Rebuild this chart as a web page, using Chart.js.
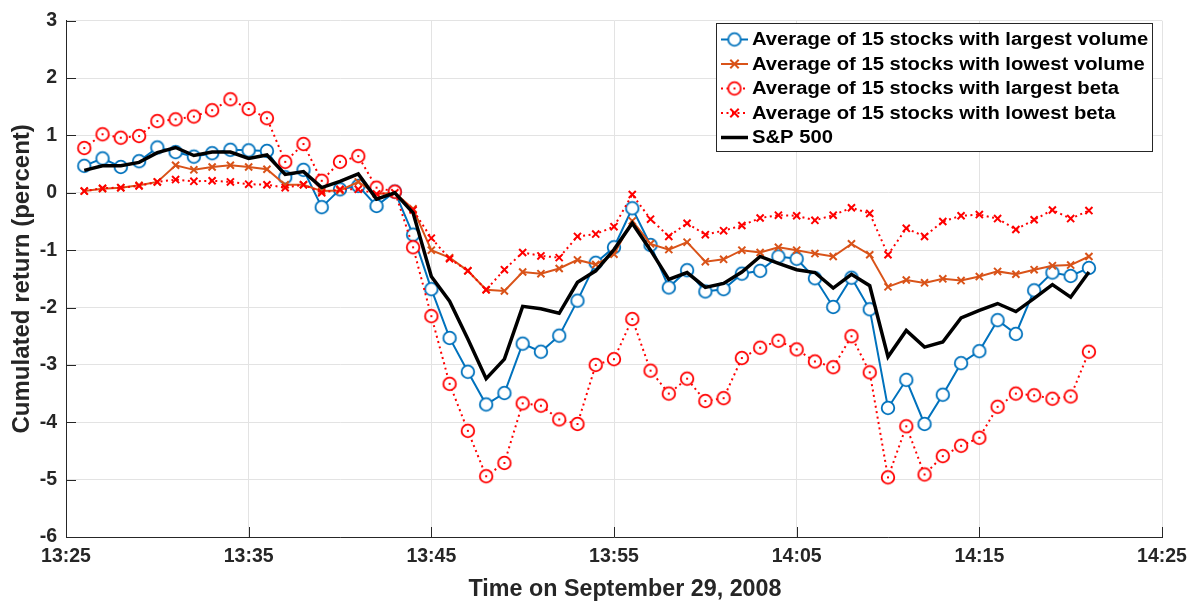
<!DOCTYPE html>
<html>
<head>
<meta charset="utf-8">
<script src="https://cdn.jsdelivr.net/npm/chart.js@4.4.1/dist/chart.umd.min.js"></script>
<style>
  html, body { margin: 0; padding: 0; background: #ffffff; }
  #wrap { width: 1199px; height: 604px; }
</style>
</head>
<body>
<div id="wrap"><canvas id="c" width="1199" height="604"></canvas></div>
<script>
// Minute stamps, 29 September 2008
const times = [
  "13:26","13:27","13:28","13:29","13:30","13:31","13:32","13:33","13:34","13:35",
  "13:36","13:37","13:38","13:39","13:40","13:41","13:42","13:43","13:44","13:45",
  "13:46","13:47","13:48","13:49","13:50","13:51","13:52","13:53","13:54","13:55",
  "13:56","13:57","13:58","13:59","14:00","14:01","14:02","14:03","14:04","14:05",
  "14:06","14:07","14:08","14:09","14:10","14:11","14:12","14:13","14:14","14:15",
  "14:16","14:17","14:18","14:19","14:20","14:21"
];

// Cumulated returns in percent
const largestVolume = [
  0.47, 0.60, 0.45, 0.55, 0.79, 0.71, 0.63, 0.69, 0.75, 0.74,
  0.73, 0.27, 0.40, -0.25, 0.06, 0.12, -0.23, 0.02, -0.73, -1.68,
  -2.53, -3.12, -3.69, -3.49, -2.63, -2.77, -2.49, -1.88, -1.22, -0.95,
  -0.27, -0.91, -1.65, -1.35, -1.72, -1.68, -1.41, -1.36, -1.11, -1.15,
  -1.49, -1.99, -1.48, -2.03, -3.75, -3.26, -4.03, -3.52, -2.97, -2.76,
  -2.22, -2.46, -1.70, -1.39, -1.45, -1.31
];
const lowestVolume = [
  0.03, 0.07, 0.09, 0.13, 0.19, 0.48, 0.40, 0.45, 0.48, 0.45,
  0.41, 0.14, 0.14, 0.03, 0.04, 0.19, -0.02, 0.00, -0.28, -1.00,
  -1.13, -1.36, -1.69, -1.71, -1.38, -1.41, -1.32, -1.17, -1.25, -1.07,
  -0.49, -0.89, -0.99, -0.86, -1.20, -1.16, -1.00, -1.04, -0.95, -1.00,
  -1.06, -1.11, -0.89, -1.08, -1.64, -1.52, -1.57, -1.50, -1.53, -1.46,
  -1.37, -1.42, -1.34, -1.27, -1.26, -1.11
];
const largestBeta = [
  0.78, 1.02, 0.96, 0.99, 1.25, 1.28, 1.33, 1.44, 1.63, 1.46,
  1.30, 0.54, 0.85, 0.21, 0.54, 0.64, 0.09, 0.02, -0.95, -2.15,
  -3.33, -4.15, -4.94, -4.71, -3.67, -3.71, -3.95, -4.03, -3.00, -2.90,
  -2.20, -3.10, -3.50, -3.24, -3.63, -3.58, -2.88, -2.70, -2.58, -2.73,
  -2.94, -3.04, -2.50, -3.13, -4.96, -4.07, -4.91, -4.59, -4.41, -4.27,
  -3.73, -3.50, -3.53, -3.59, -3.55, -2.77
];
const lowestBeta = [
  0.03, 0.08, 0.09, 0.12, 0.19, 0.23, 0.20, 0.21, 0.19, 0.15,
  0.14, 0.09, 0.14, 0.00, 0.06, 0.06, -0.02, 0.00, -0.30, -0.79,
  -1.15, -1.36, -1.69, -1.34, -1.04, -1.10, -1.13, -0.76, -0.72, -0.59,
  -0.03, -0.46, -0.76, -0.53, -0.73, -0.66, -0.57, -0.44, -0.39, -0.40,
  -0.48, -0.39, -0.26, -0.36, -1.08, -0.62, -0.76, -0.50, -0.40, -0.38,
  -0.45, -0.64, -0.47, -0.30, -0.45, -0.31
];
const sp500 = [
  0.39, 0.47, 0.47, 0.53, 0.70, 0.79, 0.65, 0.71, 0.71, 0.60,
  0.66, 0.32, 0.37, 0.09, 0.20, 0.33, -0.11, 0.00, -0.35, -1.46,
  -1.89, -2.55, -3.24, -2.90, -1.98, -2.02, -2.10, -1.56, -1.36, -0.99,
  -0.53, -1.00, -1.51, -1.39, -1.65, -1.58, -1.38, -1.11, -1.23, -1.34,
  -1.39, -1.66, -1.42, -1.62, -2.86, -2.40, -2.69, -2.60, -2.18, -2.05,
  -1.93, -2.07, -1.84, -1.60, -1.82, -1.38
];

const seriesNames = [
  "Average of 15 stocks with largest volume",
  "Average of 15 stocks with lowest volume",
  "Average of 15 stocks with largest beta",
  "Average of 15 stocks with lowest beta",
  "S&P 500"
];

const xTickLabels = ["13:25", "13:35", "13:45", "13:55", "14:05", "14:15", "14:25"];
const yTickValues = [3, 2, 1, 0, -1, -2, -3, -4, -5, -6];

const xTitle = "Time on September 29, 2008";
const yTitle = "Cumulated return (percent)";

// ---- helpers ----
function toMinutes(t) {
  const [h, m] = t.split(":").map(Number);
  return h * 60 + m;
}
function fmtMinutes(v) {
  const h = Math.floor(v / 60), m = Math.round(v - h * 60);
  return h + ":" + String(m).padStart(2, "0");
}
function toPoints(values) {
  return times.map((t, i) => ({ x: toMinutes(t), y: values[i] }));
}

const BLUE = "#0072BD", ORANGE = "#D95319", RED = "#FF0000", AXIS = "#262626";
const FONT = '"Liberation Sans", Arial, Helvetica, sans-serif';

// hollow circle marker, optionally with a dot in the middle
function circleMarker(color, withDot) {
  const cv = document.createElement("canvas");
  cv.width = 18; cv.height = 18;
  const g = cv.getContext("2d");
  g.beginPath();
  g.arc(9, 9, 6.3, 0, Math.PI * 2);
  g.fillStyle = "#ffffff";
  g.fill();
  g.lineWidth = 1.8;
  g.strokeStyle = color;
  g.stroke();
  if (withDot) {
    g.fillStyle = color;
    g.fillRect(8, 8, 2, 2);
  }
  return cv;
}
const blueCircle = circleMarker(BLUE, false);
const redCircle = circleMarker(RED, true);

// inward tick marks along both axes
const inwardTicks = {
  id: "inwardTicks",
  beforeDatasetsDraw(chart) {
    const { ctx, chartArea: a, scales: { x, y } } = chart;
    ctx.save();
    ctx.strokeStyle = AXIS;
    ctx.lineWidth = 1;
    const len = 10;
    x.ticks.forEach(t => {
      const px = Math.round(x.getPixelForValue(t.value)) + 0.5;
      ctx.beginPath();
      ctx.moveTo(px, a.bottom);
      ctx.lineTo(px, a.bottom - len);
      ctx.stroke();
    });
    y.ticks.forEach(t => {
      const py = Math.round(y.getPixelForValue(t.value)) + 0.5;
      ctx.beginPath();
      ctx.moveTo(a.left, py);
      ctx.lineTo(a.left + len, py);
      ctx.stroke();
    });
    ctx.restore();
  }
};

// horizontal axis title
const xAxisTitle = {
  id: "xAxisTitle",
  afterDraw(chart) {
    const { ctx, chartArea: a } = chart;
    ctx.save();
    ctx.font = "bold 23.3px " + FONT;
    ctx.fillStyle = AXIS;
    ctx.textAlign = "center";
    ctx.textBaseline = "alphabetic";
    ctx.fillText(xTitle, (a.left + a.right) / 2 + 11, 596);
    ctx.restore();
  }
};

// boxed legend in the upper right of the plot
const boxLegend = {
  id: "boxLegend",
  afterDraw(chart) {
    const { ctx } = chart;
    const left = 716, top = 23, right = 1153, bottom = 152;
    ctx.save();
    ctx.fillStyle = "#ffffff";
    ctx.fillRect(left, top, right - left, bottom - top);
    ctx.strokeStyle = AXIS;
    ctx.lineWidth = 1;
    ctx.strokeRect(left + 0.5, top + 0.5, right - left - 1, bottom - top - 1);

    const rowY = [39.5, 64, 88.5, 113, 137.5];
    const x0 = 721, x1 = 748, xm = (x0 + x1) / 2, xt = 752;
    const stretch = 1.124;
    ctx.font = "bold 18px " + FONT;
    ctx.textBaseline = "middle";
    ctx.textAlign = "left";
    chart.data.datasets.forEach((ds, i) => {
      const yy = rowY[i];
      ctx.save();
      ctx.strokeStyle = ds.borderColor;
      ctx.lineWidth = ds.borderWidth;
      ctx.setLineDash(ds.borderDash || []);
      ctx.beginPath();
      ctx.moveTo(x0, yy);
      ctx.lineTo(x1, yy);
      ctx.stroke();
      ctx.restore();
      const ps = ds.pointStyle;
      if (ps instanceof HTMLCanvasElement) {
        ctx.drawImage(ps, xm - ps.width / 2, yy - ps.height / 2);
      } else if (ps === "crossRot") {
        const r = 4.2;
        ctx.save();
        ctx.strokeStyle = ds.pointBorderColor;
        ctx.lineWidth = ds.pointBorderWidth;
        ctx.beginPath();
        ctx.moveTo(xm - r, yy - r); ctx.lineTo(xm + r, yy + r);
        ctx.moveTo(xm - r, yy + r); ctx.lineTo(xm + r, yy - r);
        ctx.stroke();
        ctx.restore();
      }
      ctx.save();
      ctx.translate(xt, yy + 1);
      ctx.scale(stretch, 1);
      ctx.fillStyle = "#000000";
      ctx.fillText(ds.label, 0, 0);
      ctx.restore();
    });
    ctx.restore();
  }
};

const datasets = [
  {
    label: seriesNames[0], data: toPoints(largestVolume),
    borderColor: BLUE, borderWidth: 2, pointStyle: blueCircle,
    pointBorderColor: BLUE, order: 4
  },
  {
    label: seriesNames[1], data: toPoints(lowestVolume),
    borderColor: ORANGE, borderWidth: 2, pointStyle: "crossRot",
    pointRadius: 5, pointBorderColor: ORANGE, pointBorderWidth: 2, order: 3
  },
  {
    label: seriesNames[2], data: toPoints(largestBeta),
    borderColor: RED, borderWidth: 2, borderDash: [2, 3.5], pointStyle: redCircle,
    pointBorderColor: RED, order: 2
  },
  {
    label: seriesNames[3], data: toPoints(lowestBeta),
    borderColor: RED, borderWidth: 2, borderDash: [2, 3.5], pointStyle: "crossRot",
    pointRadius: 5, pointBorderColor: RED, pointBorderWidth: 2, order: 1
  },
  {
    label: seriesNames[4], data: toPoints(sp500),
    borderColor: "#000000", borderWidth: 3.5, pointRadius: 0, pointStyle: false, order: 0
  }
];
datasets.forEach(d => {
  d.fill = false;
  d.tension = 0;
  d.backgroundColor = "#ffffff";
  d.pointBackgroundColor = "#ffffff";
  d.pointHoverRadius = d.pointRadius;
  d.borderJoinStyle = "miter";
});

new Chart(document.getElementById("c"), {
  type: "line",
  data: { datasets },
  plugins: [inwardTicks, xAxisTitle, boxLegend],
  options: {
    responsive: false,
    animation: false,
    devicePixelRatio: 1,
    events: [],
    layout: { padding: { top: 14, right: 37, left: 0, bottom: 0 } },
    plugins: { legend: { display: false }, tooltip: { enabled: false } },
    scales: {
      x: {
        type: "linear",
        min: toMinutes(xTickLabels[0]),
        max: toMinutes(xTickLabels[xTickLabels.length - 1]),
        afterBuildTicks: s => { s.ticks = xTickLabels.map(t => ({ value: toMinutes(t) })); },
        afterFit: s => { s.height = 67; },
        grid: { color: "#e3e3e3", lineWidth: 1, drawTicks: false },
        border: { display: true, color: AXIS, width: 1 },
        ticks: {
          autoSkip: false, maxRotation: 0, padding: 8,
          color: AXIS, font: { family: FONT, size: 19.5, weight: "bold" },
          callback: v => fmtMinutes(v)
        },
        title: { display: false }
      },
      y: {
        type: "linear",
        min: yTickValues[yTickValues.length - 1],
        max: yTickValues[0],
        afterBuildTicks: s => { s.ticks = yTickValues.map(v => ({ value: v })); },
        afterFit: s => { s.width = 66; },
        grid: { color: "#e3e3e3", lineWidth: 1, drawTicks: false },
        border: { display: true, color: AXIS, width: 1 },
        ticks: {
          autoSkip: false, padding: 9,
          color: AXIS, font: { family: FONT, size: 19.5, weight: "bold" },
          callback: v => String(v)
        },
        title: {
          display: true, text: yTitle, color: AXIS,
          font: { family: FONT, size: 24, weight: "bold" },
          padding: { top: 7.5, bottom: 0 }
        }
      }
    }
  }
});
</script>
</body>
</html>
